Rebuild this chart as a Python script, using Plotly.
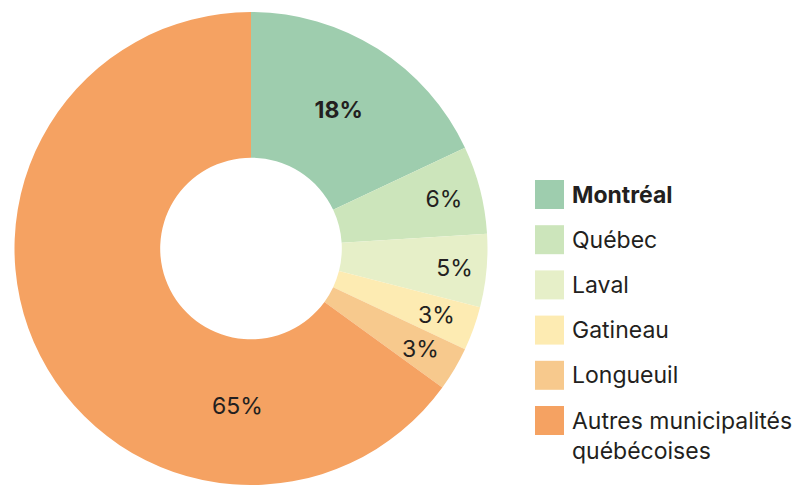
import math
import plotly.graph_objects as go

# ---- data ----
categories = ["Montréal", "Québec", "Laval", "Gatineau", "Longueuil",
              "Autres municipalités<br>québécoises"]
values = [18, 6, 5, 3, 3, 65]
colors = ["#9ECDAE", "#CCE5BB", "#E6EFC8", "#FDEBB2", "#F7C98D", "#F5A262"]
bold = [True, False, False, False, False, False]

W, H = 797, 485
MT, MB = 12, 0
PH = H - MT - MB
FONT = "Inter, Roboto, sans-serif"
TXT = "#231F20"

def py(ypx):
    return (H - ypx) / PH

cx, r = 251, PH / 2
cy = MT + r
labels_txt = [("<b>%d%%</b>" if b else "%d%%") % v for v, b in zip(values, bold)]
# labels that plotly would shrink (thin slices) or place elsewhere are drawn as annotations
outside = [False, False, False, True, True, True]
slice_text = ["" if o else t for t, o in zip(labels_txt, outside)]

fig = go.Figure(go.Pie(
    labels=[c.replace("<br>", " ") for c in categories],
    values=values,
    text=slice_text,
    textinfo="text",
    textposition="inside",
    insidetextorientation="horizontal",
    textfont=dict(family=FONT, size=23, color=TXT),
    marker=dict(colors=colors, line=dict(width=0)),
    hole=0.384,
    sort=False,
    direction="clockwise",
    rotation=0,
    domain=dict(x=[(cx - r) / W, (cx + r) / W], y=[0, 1]),
    hoverinfo="label+percent",
    showlegend=False,
))

shapes, annotations = [], []
total = sum(values)
cum = 0
for i, v in enumerate(values):
    mid = (cum + v / 2) / total * 2 * math.pi
    cum += v
    if not outside[i]:
        continue
    if i == len(values) - 1:
        xp, yp = 237, 406
    else:
        rr = 0.835 * r
        xp, yp = cx + rr * math.sin(mid), cy - rr * math.cos(mid)
    annotations.append(dict(xref="paper", yref="paper", x=xp / W, y=py(yp),
                            xanchor="center", yanchor="middle", showarrow=False,
                            text=labels_txt[i],
                            font=dict(family=FONT, size=23, color=TXT)))

y0, dy, sw = 194.5, 45.2, 29
for i, (cat, col, b) in enumerate(zip(categories, colors, bold)):
    yc = y0 + i * dy
    shapes.append(dict(type="rect", xref="paper", yref="paper",
                       x0=535 / W, x1=(535 + sw) / W,
                       y0=py(yc + sw / 2), y1=py(yc - sw / 2),
                       fillcolor=col, line=dict(width=0)))
    label = "<b>%s</b>" % cat if b else cat
    multi = "<br>" in cat
    annotations.append(dict(
        xref="paper", yref="paper", x=570 / W,
        y=py(yc - 16) if multi else py(yc),
        xanchor="left", yanchor="top" if multi else "middle",
        align="left", showarrow=False, text=label,
        font=dict(family=FONT, size=23, color=TXT)))

fig.update_layout(
    width=W, height=H,
    margin=dict(l=0, r=0, t=MT, b=MB),
    paper_bgcolor="white", plot_bgcolor="white",
    shapes=shapes, annotations=annotations,
    font=dict(family=FONT, color=TXT),
)
fig.write_html("out.html", config={"displayModeBar": False},
               post_script="document.body.style.margin='0';document.body.style.padding='0';")
